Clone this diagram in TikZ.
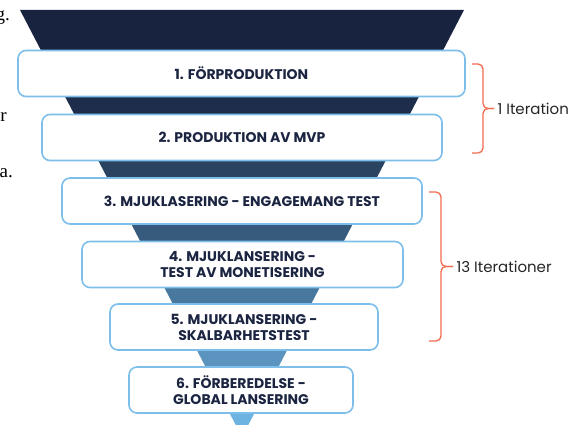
\documentclass[tikz,border=0pt]{standalone}
\usepackage{fontspec}
\setmainfont{Poppins}
\newfontfamily\fragfont{Liberation Serif}

\definecolor{navy}{HTML}{1B2541}
\definecolor{boxblue}{HTML}{7DBFEA}
\definecolor{braceorange}{HTML}{F26B4F}
\definecolor{bandA}{HTML}{18233F}
\definecolor{bandB}{HTML}{1F2D4D}
\definecolor{bandC}{HTML}{2A4361}
\definecolor{bandD}{HTML}{375B7C}
\definecolor{bandE}{HTML}{48789E}
\definecolor{bandF}{HTML}{5B94BF}
\definecolor{bandG}{HTML}{6CB3E2}

\tikzset{
  stage/.style={draw=boxblue, line width=1.6pt, fill=white, rounded corners=8pt,
    text=navy, font=\bfseries\fontsize{14}{16}\selectfont, align=center,
    minimum height=46pt, inner sep=0pt},
  iterbrace/.style={draw=braceorange, line width=1.3pt, rounded corners=5pt},
  iterlabel/.style={anchor=west, text=black!85, font=\fontsize{15}{17}\selectfont},
  frag/.style={anchor=base east, inner sep=0pt, font=\fragfont\fontsize{19}{22}\selectfont}
}

\begin{document}
\begin{tikzpicture}[x=1pt, y=-1pt]
    \useasboundingbox (0,0) rectangle (573,425);

    % cut-off text at the left edge
    \node[frag] (fragg) at (10,21) {g.};
    \node[frag] (fragr) at (7,122) {r};
    \node[frag] (fraga) at (13,178) {a.};

    % funnel, dark at the top and light at the bottom
    \begin{scope}
        \clip (20,10) -- (464,10) -- (242,437) -- cycle;
        \fill[bandA] (0,0) rectangle (573,74);
        \fill[bandB] (0,74) rectangle (573,138);
        \fill[bandC] (0,138) rectangle (573,201);
        \fill[bandD] (0,201) rectangle (573,265);
        \fill[bandE] (0,265) rectangle (573,327);
        \fill[bandF] (0,327) rectangle (573,390);
        \fill[bandG] (0,390) rectangle (573,425);
    \end{scope}

    % stages
    \node[stage, minimum width=447pt] (s1) at (241.5,73.5) {1. FÖRPRODUKTION};
    \node[stage, minimum width=400pt] (s2) at (242,137.5) {2. PRODUKTION AV MVP};
    \node[stage, minimum width=360pt] (s3) at (242,201) {3. MJUKLASERING - ENGAGEMANG TEST};
    \node[stage, minimum width=321pt] (s4) at (242.5,264.5) {4. MJUKLANSERING -\\TEST AV MONETISERING};
    \node[stage, minimum width=268pt] (s5) at (244,327) {5. MJUKLANSERING -\\SKALBARHETSTEST};
    \node[stage, minimum width=224pt] (s6) at (241,390) {6. FÖRBEREDELSE -\\GLOBAL LANSERING};

    % iterations
    \coordinate (b1top) at (472,64);
    \coordinate (b1bot) at (472,153);
    \coordinate (b1tip) at (494,108.5);
    \draw[iterbrace] (b1top) -- (483,64) -- (483,108.5) -- (b1tip);
    \draw[iterbrace] (b1bot) -- (483,153) -- (483,108.5) -- (b1tip);
    \node[iterlabel] (it1) at (b1tip) {1 Iteration};

    \coordinate (b2top) at (429,192);
    \coordinate (b2bot) at (429,341);
    \coordinate (b2tip) at (453,266.5);
    \draw[iterbrace] (b2top) -- (441,192) -- (441,266.5) -- (b2tip);
    \draw[iterbrace] (b2bot) -- (441,341) -- (441,266.5) -- (b2tip);
    \node[iterlabel] (it2) at (b2tip) {13 Iterationer};
\end{tikzpicture}
\end{document}
